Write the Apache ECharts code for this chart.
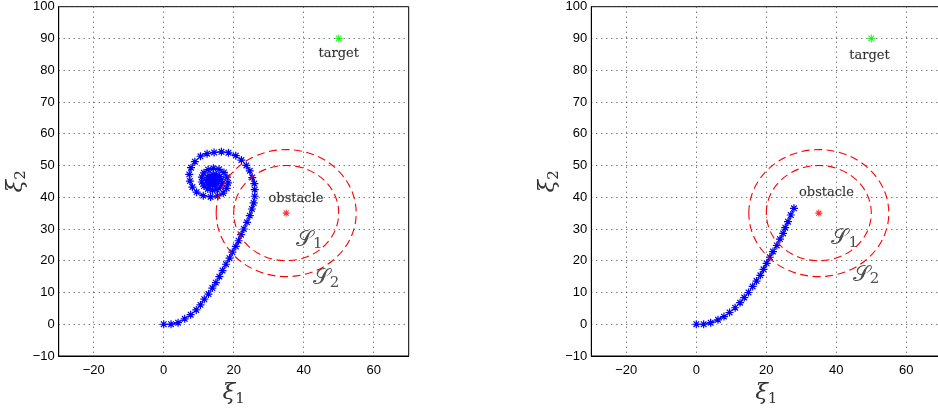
<!DOCTYPE html>
<html>
<head>
<meta charset="utf-8">
<script src="https://cdn.jsdelivr.net/npm/echarts@6/dist/echarts.min.js"></script>
<style>html,body{margin:0;padding:0;background:#fff;}#c{width:938px;height:408px;}</style>
</head>
<body>
<div id="c"></div>
<script>
// ---- data ----
var xTicks = [-20, 0, 20, 40, 60];
var yTicks = [-10, 0, 10, 20, 30, 40, 50, 60, 70, 80, 90, 100];
var trajLeft = [[0,0],[2.1,0],[4.1,0.5],[6.0,1.7],[7.7,3.0],[9.3,4.5],[10.5,6.1],[11.6,7.9],[12.8,9.5],[13.9,11.4],[14.9,13.1],[15.9,15.0],[16.8,16.9],[17.8,18.9],[18.8,20.8],[19.6,22.7],[20.6,24.5],[21.4,26.3],[22.1,28.2],[22.9,30.0],[23.8,32.1],[24.6,34.2],[25.2,36.3],[25.7,38.2],[26.0,40.3],[26.0,42.4],[25.9,44.3],[25.3,46.2],[24.6,48.3],[23.6,50.0],[22.2,51.7],[20.6,53.1],[18.5,54.0],[16.5,54.3],[14.4,54.1],[12.4,53.7],[10.5,52.9],[8.9,51.2],[7.8,49.3],[7.3,47.2],[7.5,45.1],[8.2,43.2],[9.4,41.6],[11.3,40.5],[13.4,40.1],[15.4,40.4],[17.0,41.3],[18.0,42.8],[18.4,44.5],[18.1,46.3],[17.2,47.8],[15.8,48.8],[14.2,49.1],[12.7,48.7],[11.5,47.7],[10.9,46.3],[10.9,44.8],[11.5,43.5],[12.6,42.6],[13.9,42.2],[15.2,42.4],[16.2,43.2],[16.7,44.3],[16.6,45.5],[16.0,46.5],[15.1,47.1],[14.1,47.2],[13.2,46.8],[12.6,46.1],[12.4,45.2],[12.7,44.4],[13.3,43.9],[14.0,43.7],[14.7,43.9],[15.2,44.4],[15.3,45.1],[15.0,45.7],[14.5,46.0],[14.0,45.9],[13.6,45.6],[13.5,45.1],[13.7,44.7],[14.1,44.6],[14.5,44.8],[14.6,45.2],[14.4,45.5],[14.1,45.5],[13.9,45.3],[14.0,45.0],[14.2,45.0],[14.3,45.2],[14.2,45.3],[14.1,45.2]];
var trajRight = [[0,0],[2.1,0],[4.1,0.5],[6.2,1.4],[7.9,2.4],[9.5,3.7],[11.1,5.2],[12.5,6.8],[13.7,8.4],[14.9,10.0],[16.1,11.9],[17.2,13.6],[18.3,15.4],[19.2,17.3],[20.1,19.2],[21.0,21.1],[21.9,22.9],[23.0,24.8],[23.9,26.8],[24.8,28.6],[25.4,30.4],[26.2,32.3],[27.0,34.4],[27.9,36.5]];
var obstacle = [[35, 35]];
var target = [[50, 90]];
var circles = [[35, 35, 15], [35, 35, 20]]; // centre x, centre y, radius (S1, S2)
var annLeft = [
  {name: 'target', value: [50, 85.3]},
  {name: 'obstacle', value: [37.8, 39.7]},
  {name: 'S1', value: [41.6, 26.5]},
  {name: 'S2', value: [46.4, 14.5]}
];
var annRight = [
  {name: 'target', value: [49.5, 84.5]},
  {name: 'obstacle', value: [37.2, 41.5]},
  {name: 'S1', value: [42.4, 27.1]},
  {name: 'S2', value: [48.5, 15.5]}
];

// ---- chart ----
var STAR = 'path://M0,-5L0,5M-5,0L5,0M-3.5,-3.5L3.5,3.5M-3.5,3.5L3.5,-3.5';
var tickFont = {fontFamily: 'Liberation Sans', fontSize: 13, color: '#000'};
function fmt(v) { return v < 0 ? '\u2212' + (-v) : String(v); }
var gridLine = {show: true, lineStyle: {color: '#444', type: [1, 4], width: 1}};

function xAxis(i) {
  return {
    type: 'value', gridIndex: i, min: -30, max: 70,
    axisLine: {show: true, onZero: false, lineStyle: {color: '#000', width: 1}},
    axisTick: {show: false, customValues: xTicks},
    axisLabel: Object.assign({customValues: xTicks, margin: 8, formatter: fmt}, tickFont),
    splitLine: gridLine,
    name: '{a|\u03be}{b|1}', nameLocation: 'middle', nameGap: 21,
    nameTextStyle: {rich: {
      a: {fontFamily: 'DejaVu Serif', fontStyle: 'italic', fontSize: 23, color: '#333', lineHeight: 26},
      b: {fontFamily: 'DejaVu Serif', fontSize: 15, color: '#333', verticalAlign: 'bottom', lineHeight: 16, padding: [6, 0, 0, 0]}
    }}
  };
}
function yAxis(i) {
  return {
    type: 'value', gridIndex: i, min: -10, max: 100, interval: 10,
    axisLine: {show: true, onZero: false, lineStyle: {color: '#000', width: 1}},
    axisTick: {show: false},
    axisLabel: Object.assign({margin: 4, formatter: fmt}, tickFont),
    splitLine: gridLine,
    name: '{a|\u03be}{b|2}', nameLocation: 'middle', nameGap: 26, nameRotate: 90,
    nameTextStyle: {rich: {
      a: {fontFamily: 'DejaVu Serif', fontStyle: 'italic', fontSize: 23, color: '#333', lineHeight: 26},
      b: {fontFamily: 'DejaVu Serif', fontSize: 15, color: '#333', verticalAlign: 'bottom', lineHeight: 16, padding: [6, 0, 0, 0]}
    }}
  };
}
function circleSeries(i) {
  return {
    type: 'custom', xAxisIndex: i, yAxisIndex: i, z: 5, data: circles,
    encode: {x: 0, y: 1},
    renderItem: function (params, api) {
      var c = api.coord([api.value(0), api.value(1)]);
      var s = api.size([api.value(2), api.value(2)]);
      return {type: 'ellipse', shape: {cx: c[0], cy: c[1], rx: s[0], ry: s[1]},
        style: {fill: 'none', stroke: '#ff0000', lineWidth: 1.1, lineDash: [8, 4.5]}};
    }
  };
}
function starSeries(i, data, color, size) {
  return {type: 'scatter', xAxisIndex: i, yAxisIndex: i, z: 6, data: data, symbol: STAR, symbolSize: size,
    itemStyle: {color: color, borderColor: color, borderWidth: 1.1}};
}
function trajSeries(i, data) {
  return {type: 'line', xAxisIndex: i, yAxisIndex: i, z: 3, data: data, symbol: STAR, symbolSize: 8, showSymbol: true,
    lineStyle: {color: '#0000ff', width: 1}, itemStyle: {color: '#0000ff', borderColor: '#0000ff', borderWidth: 1.2}};
}
function annSeries(i, data) {
  return {type: 'scatter', xAxisIndex: i, yAxisIndex: i, z: 7, data: data, symbolSize: 1,
    itemStyle: {color: 'rgba(0,0,0,0)'},
    label: {show: true, position: 'inside', formatter: function (p) {
      if (p.name === 'S1') return '{s|\ud835\udcae}{n|1}';
      if (p.name === 'S2') return '{s|\ud835\udcae}{n|2}';
      return '{t|' + p.name + '}';
    }, rich: {
      t: {fontFamily: 'DejaVu Serif', fontSize: 13, color: '#000', textBorderColor: 'rgba(0,0,0,0.35)', textBorderWidth: 0.4},
      s: {fontFamily: 'DejaVu Serif', fontSize: 22, color: '#222', lineHeight: 24},
      n: {fontFamily: 'DejaVu Serif', fontSize: 15, color: '#222', verticalAlign: 'bottom', lineHeight: 14, padding: [6, 0, 0, 0]}
    }}
  };
}

var chart = echarts.init(document.getElementById('c'), null, {renderer: 'canvas'});
chart.setOption({
  animation: false,
  backgroundColor: '#fff',
  grid: [
    {left: 58.7, top: 6.7, width: 350, height: 349.3, show: true, borderColor: '#000', borderWidth: 1, outerBoundsMode: 'none', containLabel: false},
    {left: 591.3, top: 6.7, width: 350, height: 349.3, show: true, borderColor: '#000', borderWidth: 1, outerBoundsMode: 'none', containLabel: false}
  ],
  xAxis: [xAxis(0), xAxis(1)],
  yAxis: [yAxis(0), yAxis(1)],
  series: [
    trajSeries(0, trajLeft), circleSeries(0), starSeries(0, obstacle, '#ff0000', 7), starSeries(0, target, '#00ee00', 8), annSeries(0, annLeft),
    trajSeries(1, trajRight), circleSeries(1), starSeries(1, obstacle, '#ff0000', 7), starSeries(1, target, '#00ee00', 8), annSeries(1, annRight)
  ]
});
</script>
</body>
</html>
